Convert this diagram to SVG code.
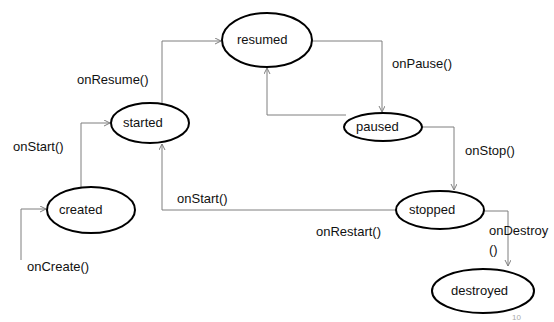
<svg xmlns="http://www.w3.org/2000/svg" width="554" height="322" viewBox="0 0 554 322">
<style>
.node ellipse{fill:#fff;stroke:#000;stroke-width:2}
text{font-family:"Liberation Sans",Arial,sans-serif;font-size:13px;fill:#111}
.conn path{fill:none;stroke:#7f7f7f;stroke-width:1}
</style>
<defs>
<marker id="arr" markerWidth="8" markerHeight="8" refX="6" refY="3" orient="auto" markerUnits="userSpaceOnUse">
<path d="M0,0 L6,3 L0,6" fill="none" stroke="#7f7f7f" stroke-width="1"/>
</marker>
</defs>
<rect width="554" height="322" fill="#fff"/>
<g id="connectors" class="conn">
<path d="M21,260 V209 H46" marker-end="url(#arr)"/>
<path d="M81,187 V123 H110" marker-end="url(#arr)"/>
<path d="M162,103 V41 H221" marker-end="url(#arr)"/>
<path d="M312,41 H382 V112" marker-end="url(#arr)"/>
<path d="M346,115 H267 V68" marker-end="url(#arr)"/>
<path d="M422,127 H454 V190" marker-end="url(#arr)"/>
<path d="M396,210 H162 V144" marker-end="url(#arr)"/>
<path d="M484,211 H508 V266" marker-end="url(#arr)"/>
</g>
<g id="labels">
<text x="77" y="84">onResume()</text>
<text x="13" y="151">onStart()</text>
<text x="392" y="68">onPause()</text>
<text x="465" y="155">onStop()</text>
<text x="177" y="203">onStart()</text>
<text x="27" y="271">onCreate()</text>
<text x="316" y="236">onRestart()</text>
<text x="489" y="235">onDestroy</text>
<text x="489" y="254">()</text>
</g>
<g id="resumed" class="node"><ellipse cx="267" cy="40" rx="45" ry="27"/><text x="237" y="44">resumed</text></g>
<g id="started" class="node"><ellipse cx="150" cy="123" rx="39" ry="20"/><text x="123" y="127">started</text></g>
<g id="created" class="node"><ellipse cx="91" cy="210" rx="44" ry="23"/><text x="59" y="214">created</text></g>
<g id="paused" class="node"><ellipse cx="383" cy="127" rx="39" ry="14"/><text x="356" y="131">paused</text></g>
<g id="stopped" class="node"><ellipse cx="440" cy="210" rx="44" ry="19"/><text x="409" y="214">stopped</text></g>
<g id="destroyed" class="node"><ellipse cx="483" cy="291" rx="51" ry="22"/><text x="451" y="295">destroyed</text></g>
<text x="512" y="320" style="font-size:8px;fill:#aaa">10</text>
</svg>
